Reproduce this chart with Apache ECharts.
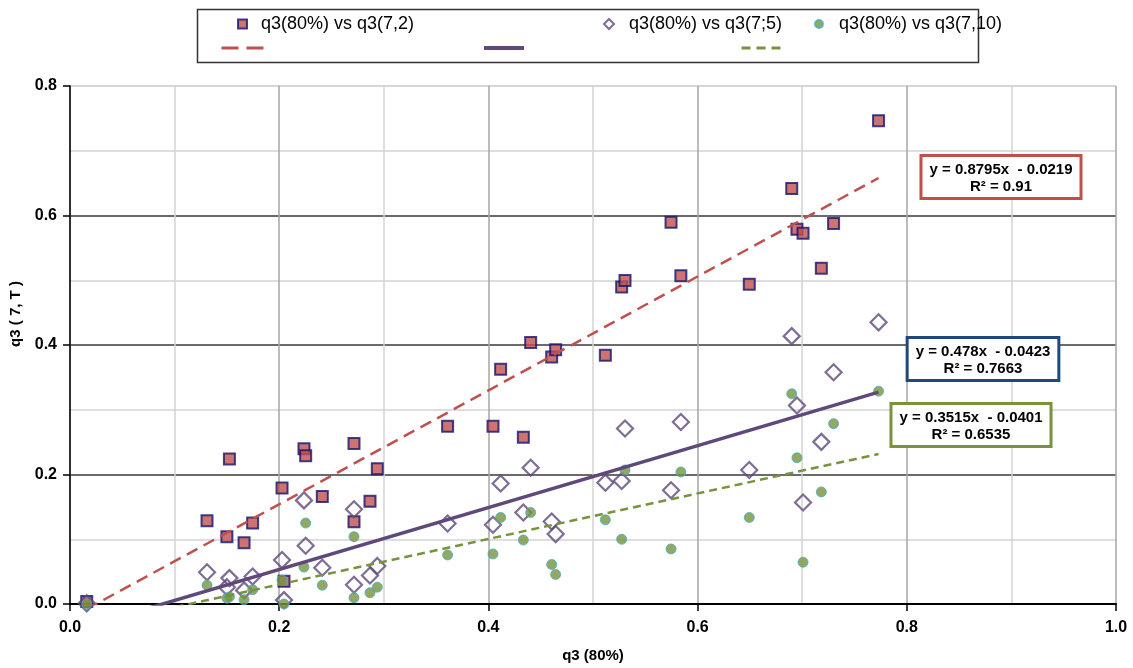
<!DOCTYPE html>
<html>
<head>
<meta charset="utf-8">
<script src="https://cdn.jsdelivr.net/npm/echarts@6/dist/echarts.min.js"></script>
<style>
html,body{margin:0;padding:0;background:#fff;}
#chart{width:1133px;height:668px;}
</style>
</head>
<body>
<div id="chart"></div>
<script>
// ---- data ----
const seriesNames = ['q3(80%) vs q3(7,2)', 'q3(80%) vs q3(7;5)', 'q3(80%) vs q3(7,10)'];
const trendNames = ['Linear (q3(80%) vs q3(7,2))', 'Linear (q3(80%) vs q3(7;5))', 'Linear (q3(80%) vs q3(7,10))'];
const xVals = [0.016, 0.131, 0.150, 0.1524, 0.1664, 0.1746, 0.2027, 0.2046, 0.2237, 0.2253, 0.2412, 0.2715, 0.2715, 0.2868, 0.2938, 0.361, 0.4044, 0.4117, 0.4334, 0.4404, 0.4605, 0.4643, 0.5118, 0.5274, 0.5306, 0.5746, 0.584, 0.6494, 0.690, 0.695, 0.7008, 0.7183, 0.730, 0.773];
const yT2 = [0.004, 0.1285, 0.104, 0.224, 0.0947, 0.125, 0.179, 0.035, 0.2396, 0.229, 0.166, 0.248, 0.127, 0.1587, 0.209, 0.2745, 0.2745, 0.3625, 0.2576, 0.404, 0.3815, 0.3928, 0.384, 0.4895, 0.4997, 0.5894, 0.5069, 0.494, 0.6416, 0.5786, 0.5725, 0.5187, 0.5878, 0.7465];
const yT5 = [0.001, 0.049, 0.026, 0.040, 0.021, 0.0425, 0.068, 0.006, 0.16, 0.09, 0.056, 0.1464, 0.0297, 0.044, 0.0588, 0.1244, 0.1224, 0.186, 0.1413, 0.2104, 0.1275, 0.108, 0.1874, 0.190, 0.271, 0.1756, 0.281, 0.2069, 0.4137, 0.3067, 0.1567, 0.2504, 0.358, 0.435];
const yT10 = [0.0, 0.029, 0.009, 0.011, 0.0066, 0.022, 0.037, 0.0, 0.057, 0.125, 0.029, 0.104, 0.0097, 0.0174, 0.026, 0.0757, 0.0773, 0.1336, 0.0988, 0.1413, 0.061, 0.0456, 0.130, 0.100, 0.207, 0.085, 0.2038, 0.1336, 0.3246, 0.2258, 0.0645, 0.1731, 0.2785, 0.3287];
const slopes = [0.8795, 0.478, 0.3515];
const intercepts = [-0.0219, -0.0423, -0.0401];
const r2 = ['0.91', '0.7663', '0.6535'];
const xTicks = [0, 0.2, 0.4, 0.6, 0.8, 1.0];
const yTicks = [0, 0.2, 0.4, 0.6, 0.8];

// ---- build ----
const FONT = '"Liberation Sans", Arial, sans-serif';
const pairs = ys => xVals.map((x, i) => [x, ys[i]]);
const xMin = Math.min.apply(null, xVals), xMax = Math.max.apply(null, xVals);
const trend = k => [[xMin, slopes[k] * xMin + intercepts[k]], [xMax, slopes[k] * xMax + intercepts[k]]];
const eqText = k => 'y = ' + slopes[k] + 'x  - ' + Math.abs(intercepts[k]) + '\nR\u00b2 = ' + r2[k];

const red = '#C0504D', purple = '#5F497A', green = '#77933C';

const chart = echarts.init(document.getElementById('chart'));
const legendBase = (name, left, top, w, h, pad) => ({
  data: [name], left: left, top: top, itemWidth: w, itemHeight: h, itemGap: 0,
  selectedMode: false, padding: 0,
  textStyle: {fontSize: 18, fontFamily: FONT, color: '#000', padding: [0, 0, 0, pad]}
});
const hiddenSym = {color: 'rgba(0,0,0,0)', borderColor: 'rgba(0,0,0,0)', borderWidth: 0, opacity: 0};
const lineLegend = (name, left, w, ls) => Object.assign(legendBase(name, left, 41, w, 14, 0),
  {formatter: () => '', itemStyle: hiddenSym, lineStyle: ls});
const legends = [
  legendBase(seriesNames[0], 237, 15, 9, 9, 9),
  legendBase(seriesNames[1], 603, 15, 10, 10, 10),
  legendBase(seriesNames[2], 814, 15, 8, 8, 11),
  lineLegend(trendNames[0], 220, 42, {color: red, width: 3, type: [17, 8]}),
  lineLegend(trendNames[1], 482, 40, {color: purple, width: 4, type: 'solid'}),
  lineLegend(trendNames[2], 740, 42, {color: green, width: 3, type: [9, 6]})
];

const option = {
  animation: false,
  backgroundColor: '#fff',
  textStyle: {fontFamily: FONT},
  legend: legends,
  grid: {left: 70, right: 17, top: 86, bottom: 61, containLabel: false},
  xAxis: {
    type: 'value', min: xTicks[0], max: xTicks[xTicks.length - 1], interval: 0.2,
    name: 'q3 (80%)', nameLocation: 'middle', nameGap: 44,
    nameTextStyle: {fontSize: 15, fontWeight: 'bold', color: '#000', fontFamily: FONT},
    axisLine: {show: true, onZero: false, lineStyle: {color: '#000', width: 2}},
    axisTick: {show: true, length: 7, lineStyle: {color: '#000', width: 1.5}},
    axisLabel: {fontSize: 16, fontWeight: 'bold', color: '#000', margin: 16, fontFamily: FONT,
      formatter: v => v.toFixed(1)},
    splitLine: {show: true, lineStyle: {color: '#a6a6a6', width: 1.5}},
    minorTick: {show: false, splitNumber: 2},
    minorSplitLine: {show: true, lineStyle: {color: '#d4d4d4', width: 1.5}}
  },
  yAxis: {
    type: 'value', min: yTicks[0], max: yTicks[yTicks.length - 1], interval: 0.2,
    name: 'q3 ( 7, T )', nameLocation: 'middle', nameGap: 41, nameRotate: 90,
    nameTextStyle: {fontSize: 15, fontWeight: 'bold', color: '#000', fontFamily: FONT, padding: [0, 0, 0, 62]},
    axisLine: {show: true, onZero: false, lineStyle: {color: '#000', width: 1.5}},
    axisTick: {show: true, length: 7, lineStyle: {color: '#000', width: 1.5}},
    axisLabel: {fontSize: 16, fontWeight: 'bold', color: '#000', margin: 13, fontFamily: FONT,
      formatter: v => v.toFixed(1)},
    splitLine: {show: true, lineStyle: {color: ['#000', '#3a3a3a', '#3a3a3a', '#3a3a3a', '#c8c8c8'], width: 1.5}},
    minorTick: {show: false, splitNumber: 2},
    minorSplitLine: {show: true, lineStyle: {color: '#d4d4d4', width: 1.5}}
  },
  series: [
    {name: seriesNames[0], type: 'scatter', data: pairs(yT2), symbol: 'rect', symbolSize: 11, z: 3,
      itemStyle: {color: red, borderColor: '#14146e', borderWidth: 2}},
    {name: seriesNames[1], type: 'scatter', data: pairs(yT5), symbol: 'diamond', symbolSize: 16, z: 4,
      itemStyle: {color: 'rgba(255,255,255,0)', borderColor: purple, borderWidth: 2.2}},
    {name: seriesNames[2], type: 'scatter', data: pairs(yT10), symbol: 'circle', symbolSize: 10, z: 5,
      itemStyle: {color: green, borderColor: '#4BACC6', borderWidth: 1}},
    {name: trendNames[0], type: 'line', data: trend(0), showSymbol: false, symbol: 'none', clip: true, z: 6,
      lineStyle: {color: red, width: 2.5, type: [12, 7]}, itemStyle: {color: red}},
    {name: trendNames[1], type: 'line', data: trend(1), showSymbol: false, symbol: 'none', clip: true, z: 6,
      lineStyle: {color: purple, width: 3.5}, itemStyle: {color: purple}},
    {name: trendNames[2], type: 'line', data: trend(2), showSymbol: false, symbol: 'none', clip: true, z: 6,
      lineStyle: {color: green, width: 2.5, type: [8, 5]}, itemStyle: {color: green}}
  ],
  graphic: [
    {type: 'rect', left: 195, top: 7, shape: {width: 781, height: 53}, z: -1,
      style: {fill: 'none', stroke: '#333', lineWidth: 1.5}},
    {type: 'text', x: 1001, y: 157, z: 20, style: {text: eqText(0), font: 'bold 15px ' + FONT, fill: '#000',
      align: 'center', verticalAlign: 'top', lineHeight: 17, backgroundColor: '#fff',
      borderColor: red, borderWidth: 3, padding: [4, 7, 2, 7]}},
    {type: 'text', x: 983, y: 339, z: 20, style: {text: eqText(1), font: 'bold 15px ' + FONT, fill: '#000',
      align: 'center', verticalAlign: 'top', lineHeight: 17, backgroundColor: '#fff',
      borderColor: '#1F497D', borderWidth: 3, padding: [4, 7, 2, 7]}},
    {type: 'text', x: 971, y: 405, z: 20, style: {text: eqText(2), font: 'bold 15px ' + FONT, fill: '#000',
      align: 'center', verticalAlign: 'top', lineHeight: 17, backgroundColor: '#fff',
      borderColor: green, borderWidth: 3, padding: [4, 7, 2, 7]}}
  ]
};
chart.setOption(option);
</script>
</body>
</html>
